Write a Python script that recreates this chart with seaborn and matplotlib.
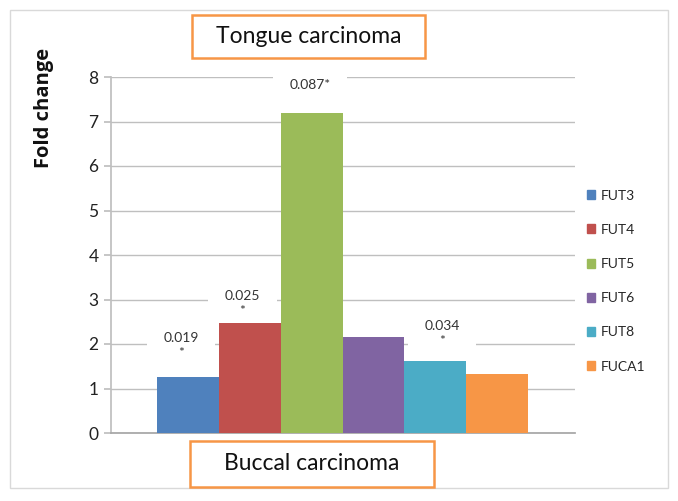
import matplotlib
matplotlib.use('Agg')
import matplotlib.pyplot as plt
import matplotlib.patches as mpatches
import pandas as pd
import seaborn as sns

genes = ['FUT3', 'FUT4', 'FUT5', 'FUT6', 'FUT8', 'FUCA1']
fold_change = [1.26, 2.47, 7.2, 2.16, 1.62, 1.33]
bar_colors = ['#4F81BD', '#C0504D', '#9BBB59', '#8064A2', '#4BACC6', '#F79646']

# p-value labels: (gene index, x offset, text, y position)
pvals = [(0, -0.11, '0.019\n*', 1.97), (1, -0.12, '0.025\n*', 2.92),
         (2, -0.03, '0.087*', 7.82), (4, 0.11, '0.034\n*', 2.24)]

W, H = 678, 501
sns.set_theme(style='white')
plt.rcParams['font.family'] = ['Lato', 'DejaVu Sans']

fig = plt.figure(figsize=(W / 100, H / 100), dpi=100)
fig.patches.append(mpatches.Rectangle((10 / W, 1 - 488 / H), 658 / W, 478 / H,
                                      transform=fig.transFigure, fill=False,
                                      ec='#D9D9D9', lw=1))

ax = fig.add_axes([111 / W, 1 - 433 / H, 464 / W, 356 / H])
df = pd.DataFrame({'gene': genes, 'fold': fold_change})
sns.barplot(data=df, x='gene', y='fold', hue='gene', palette=bar_colors,
            saturation=1, width=1.0, linewidth=0, ax=ax, legend=False, zorder=3)

ax.set_ylim(0, 8)
ax.set_xlim(-1.244, 6.26)
ax.set_yticks(range(0, 9))
ax.set_xticks([])
ax.set_xlabel('')
ax.set_ylabel('')
ax.yaxis.grid(True, color='#BFBFBF', lw=1, zorder=0)
ax.set_axisbelow(True)
for s in ['top', 'right']:
    ax.spines[s].set_visible(False)
ax.spines['left'].set_color('#BFBFBF')
ax.spines['bottom'].set_color('#A6A6A6')
ax.tick_params(axis='y', left=True, length=5, color='#BFBFBF', labelsize=12.5,
               labelcolor='#222222', pad=4)

for i, dx, txt, y in pvals:
    ax.text(i + dx, y, txt, ha='center', va='center', fontsize=10, color='#333333',
            linespacing=1.3, zorder=2,
            bbox=dict(boxstyle='square,pad=1.2', fc='white', ec='none'))

handles = [mpatches.Patch(color=c, label=g) for g, c in zip(genes, bar_colors)]
fig.legend(handles=handles, loc='upper left', bbox_to_anchor=(581 / W, 1 - 184 / H),
           frameon=False, fontsize=10, handlelength=0.6, handleheight=0.6,
           handletextpad=0.4, labelspacing=1.6, borderaxespad=0)

fig.text(44 / W, 1 - 108 / H, 'Fold change', rotation=90, ha='center', va='center',
         fontsize=14.5, fontweight='bold', family=['Open Sans', 'DejaVu Sans'],
         color='#111111')

for (x0, y0, x1, y1), label in [((192, 15, 425, 58), 'Tongue carcinoma'),
                                ((190, 441, 434, 487), 'Buccal carcinoma')]:
    fig.patches.append(mpatches.Rectangle((x0 / W, 1 - y1 / H), (x1 - x0) / W,
                                          (y1 - y0) / H, transform=fig.transFigure,
                                          fill=True, fc='white', ec='#F79646', lw=1.8))
    fig.text((x0 + x1) / 2 / W, 1 - (y0 + y1) / 2 / H, label, ha='center',
             va='center', fontsize=16.5, color='#111111')

fig.savefig('out.png', dpi=100)
